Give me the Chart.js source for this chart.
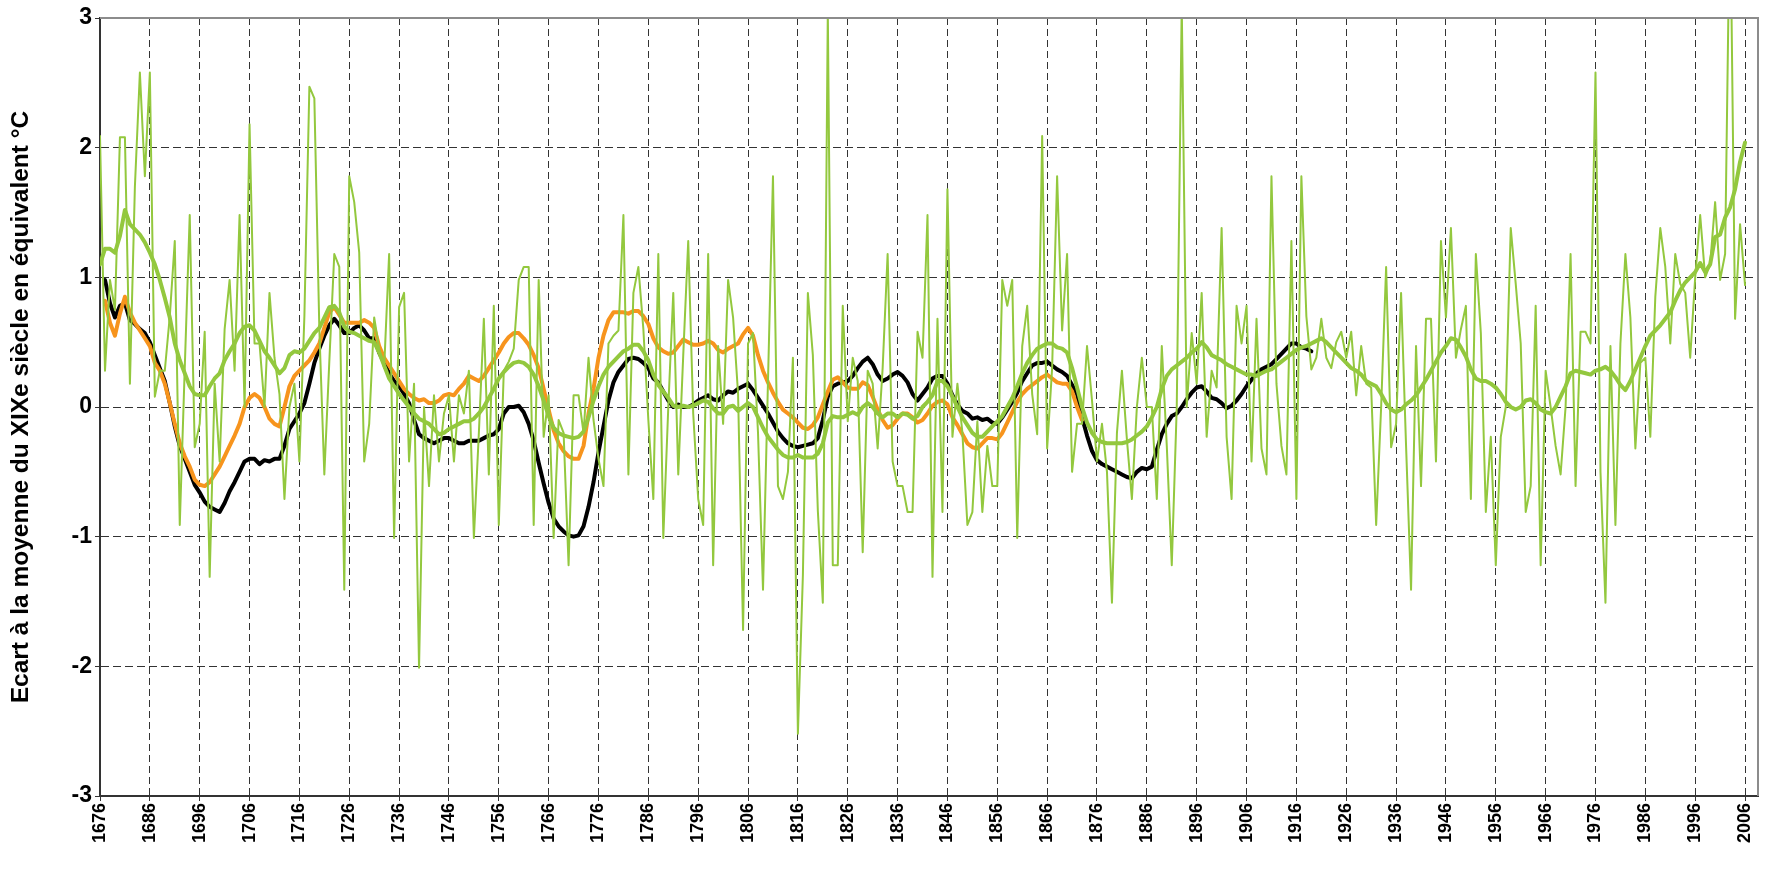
<!DOCTYPE html>
<html lang="fr">
<head>
<meta charset="utf-8">
<title>Ecart à la moyenne du XIXe siècle</title>
<script src="https://cdn.jsdelivr.net/npm/chart.js@4.4.1/dist/chart.umd.min.js"></script>
<style>
  html, body { margin: 0; padding: 0; background: #fff; }
  #chart { display: block; }
</style>
</head>
<body>
<canvas id="chart" width="1770" height="872"></canvas>
<script>
const X_TICKS = [1676, 1686, 1696, 1706, 1716, 1726, 1736, 1746, 1756, 1766, 1776, 1786,
  1796, 1806, 1816, 1826, 1836, 1846, 1856, 1866, 1876, 1886, 1896, 1906, 1916, 1926,
  1936, 1946, 1956, 1966, 1976, 1986, 1996, 2006];
const Y_MIN = -3;
const Y_MAX = 3;

// valeurs annuelles, 1676-2006
const ANNUAL_START = 1676;
const annual = [
  2.09, 0.28, 0.98, 0.75, 2.08, 2.08, 0.18, 1.7, 2.58, 1.78,
  2.58, 0.08, 0.28, 0.28, 0.7, 1.28, -0.91, 0.3, 1.48, -0.31,
  -0.13, 0.58, -1.31, 0.18, -0.42, 0.6, 0.98, 0.28, 1.48, 0.0,
  2.18, 0.49, 0.49, 0.0, 0.88, 0.38, 0.1, -0.71, 0.0, 0.18,
  -0.42, 0.7, 2.47, 2.38, 0.6, -0.52, 0.35, 1.18, 1.08, -1.41,
  1.78, 1.58, 1.19, -0.42, -0.13, 0.69, 0.45, 0.3, 1.18, -1.01,
  0.77, 0.88, -0.42, 0.18, -2.01, 0.0, -0.61, 0.09, -0.42, -0.05,
  0.09, -0.42, 0.09, -0.05, 0.28, -1.01, -0.2, 0.68, -0.52, 0.78,
  -0.91, 0.28, 0.35, 0.45, 0.98, 1.08, 1.08, -0.91, 0.98, -0.23,
  0.09, -1.01, -0.1, -0.2, -1.22, 0.09, 0.09, -0.2, 0.38, -0.1,
  -0.4, -0.61, 0.49, 0.55, 0.59, 1.48, -0.52, 0.88, 1.08, 0.6,
  -0.1, -0.71, 1.18, -1.01, 0.0, 0.88, -0.52, 0.4, 1.28, -0.05,
  -0.71, -0.91, 1.18, -1.22, 0.47, -0.13, 0.98, 0.69, 0.1, -1.72,
  0.49, 0.57, -0.2, -1.41, 0.2, 1.78, -0.61, -0.71, -0.5, 0.38,
  -2.52, -1.3, 0.88, 0.4, -0.8, -1.51, 3.05, -1.22, -1.22, 0.78,
  -0.11, 0.38, 0.2, -1.12, 0.28, 0.18, -0.32, 0.3, 1.18, -0.42,
  -0.61, -0.61, -0.81, -0.81, 0.58, 0.38, 1.48, -1.31, 0.68, -0.81,
  1.68, -0.23, 0.18, -0.2, -0.91, -0.81, -0.11, -0.81, -0.3, -0.61,
  -0.61, 0.98, 0.78, 0.98, -1.01, 0.47, 0.78, 0.1, -0.21, 2.09,
  -0.32, 0.3, 1.78, 0.59, 1.18, -0.5, -0.13, -0.13, 0.47, 0.05,
  -0.42, -0.13, -0.5, -1.51, -0.2, 0.28, -0.25, -0.71, 0.0, 0.38,
  0.0, 0.0, -0.71, 0.47, -0.3, -1.22, 0.0, 3.1, 0.0, 0.57,
  0.18, 0.88, -0.23, 0.28, 0.15, 1.38, -0.23, -0.71, 0.78, 0.49,
  0.78, -0.42, 0.68, -0.32, -0.52, 1.78, 0.18, -0.3, -0.52, 1.28,
  -0.71, 1.78, 0.7, 0.29, 0.38, 0.68, 0.38, 0.3, 0.5, 0.58,
  0.38, 0.58, 0.09, 0.47, 0.18, 0.15, -0.91, 0.0, 1.08, -0.31,
  -0.13, 0.88, -0.3, -1.41, 0.47, -0.61, 0.68, 0.68, -0.42, 1.28,
  0.69, 1.38, 0.38, 0.6, 0.78, -0.71, 1.18, 0.57, -0.81, -0.23,
  -1.22, -0.23, 0.0, 1.38, 0.95, 0.49, -0.81, -0.61, 0.78, -1.22,
  0.28, 0.0, -0.3, -0.52, 0.0, 1.18, -0.61, 0.58, 0.58, 0.49,
  2.58, -0.5, -1.51, 0.47, -0.91, 0.49, 1.18, 0.69, -0.32, 0.34,
  0.38, -0.23, 0.85, 1.38, 1.08, 0.49, 1.18, 0.95, 0.88, 0.38,
  1.0, 1.48, 1.0, 1.1, 1.58, 0.98, 1.18, 4.0, 0.68, 1.41,
  0.94,
];

// moyenne lissée (vert épais), 1676-2006
const SMOOTH_START = 1676;
const smoothed = [
  1.1, 1.22, 1.22, 1.19, 1.32, 1.52, 1.41, 1.37, 1.33, 1.27,
  1.19, 1.1, 0.98, 0.84, 0.69, 0.49, 0.36, 0.26, 0.16, 0.1,
  0.09, 0.09, 0.16, 0.22, 0.26, 0.36, 0.43, 0.49, 0.57, 0.62,
  0.63, 0.59, 0.51, 0.43, 0.38, 0.32, 0.26, 0.3, 0.4, 0.43,
  0.42, 0.45, 0.51, 0.57, 0.61, 0.69, 0.77, 0.78, 0.73, 0.62,
  0.58, 0.57, 0.55, 0.53, 0.51, 0.5, 0.42, 0.32, 0.22, 0.16,
  0.1, 0.05, 0.0, -0.05, -0.09, -0.11, -0.13, -0.17, -0.21, -0.2,
  -0.17, -0.15, -0.13, -0.11, -0.11, -0.09, -0.05, 0.0, 0.07, 0.14,
  0.22, 0.27, 0.31, 0.34, 0.35, 0.34, 0.31, 0.25, 0.16, 0.05,
  -0.07, -0.16, -0.2, -0.22, -0.23, -0.24, -0.23, -0.19, -0.08, 0.05,
  0.16, 0.25, 0.31, 0.35, 0.39, 0.43, 0.45, 0.48, 0.48, 0.43,
  0.36, 0.25, 0.17, 0.12, 0.07, 0.01, 0.0, 0.01, 0.0, 0.01,
  0.03, 0.05, 0.04, -0.01, -0.05, -0.05, 0.0, 0.01, -0.03, 0.0,
  0.03, 0.0, -0.08, -0.16, -0.23, -0.28, -0.33, -0.37, -0.39, -0.39,
  -0.37, -0.39, -0.39, -0.39, -0.36, -0.28, -0.12, -0.07, -0.08, -0.08,
  -0.06, -0.04, -0.06, 0.0, 0.03, 0.0, -0.05, -0.08, -0.05, -0.05,
  -0.08, -0.05, -0.06, -0.09, -0.07, 0.0, 0.04, 0.09, 0.2, 0.2,
  0.16, 0.08, 0.0, -0.08, -0.14, -0.2, -0.23, -0.23, -0.19, -0.15,
  -0.11, -0.07, 0.0, 0.07, 0.16, 0.26, 0.34, 0.4, 0.45, 0.47,
  0.49, 0.49, 0.46, 0.45, 0.42, 0.3, 0.15, 0.0, -0.12, -0.2,
  -0.25, -0.27, -0.28, -0.28, -0.28, -0.28, -0.27, -0.25, -0.22, -0.19,
  -0.15, -0.08, 0.0, 0.14, 0.24, 0.29, 0.32, 0.35, 0.38, 0.42,
  0.45, 0.5, 0.46, 0.4, 0.38, 0.36, 0.33, 0.31, 0.29, 0.27,
  0.25, 0.25, 0.24, 0.26, 0.28, 0.29, 0.32, 0.35, 0.38, 0.41,
  0.44, 0.46, 0.47, 0.49, 0.51, 0.53, 0.5, 0.46, 0.42, 0.38,
  0.34, 0.3, 0.28, 0.25, 0.2, 0.18, 0.16, 0.1, 0.03, -0.02,
  -0.04, -0.02, 0.02, 0.05, 0.09, 0.15, 0.21, 0.28, 0.35, 0.42,
  0.47, 0.53, 0.52, 0.46, 0.39, 0.29, 0.22, 0.2, 0.2, 0.18,
  0.15, 0.1, 0.04, 0.0, -0.02, 0.0, 0.05, 0.06, 0.03, -0.02,
  -0.04, -0.05, 0.0, 0.08, 0.16, 0.26, 0.28, 0.27, 0.26, 0.25,
  0.28, 0.29, 0.31, 0.28, 0.23, 0.17, 0.13, 0.2, 0.29, 0.38,
  0.47, 0.55, 0.59, 0.63, 0.68, 0.73, 0.82, 0.9, 0.96, 1.0,
  1.04, 1.11, 1.04, 1.1, 1.31, 1.33, 1.46, 1.54, 1.68, 1.89,
  2.04,
];

// courbe noire, 1677-1919
const BLACK_START = 1677;
const blackCurve = [
  0.98, 0.8, 0.69, 0.78, 0.8, 0.67, 0.64, 0.6, 0.57,
  0.5, 0.4, 0.3, 0.2, 0.03, -0.15, -0.3, -0.4, -0.5, -0.6,
  -0.66, -0.73, -0.77, -0.79, -0.81, -0.74, -0.65, -0.58, -0.5, -0.42,
  -0.4, -0.4, -0.44, -0.41, -0.42, -0.4, -0.4, -0.3, -0.17, -0.11,
  -0.05, 0.03, 0.18, 0.34, 0.45, 0.55, 0.63, 0.68, 0.63, 0.57,
  0.57, 0.61, 0.63, 0.59, 0.53, 0.53, 0.42, 0.34, 0.26, 0.2,
  0.16, 0.1, 0.03, -0.1, -0.21, -0.24, -0.26, -0.28, -0.26, -0.24,
  -0.24, -0.26, -0.28, -0.28, -0.26, -0.26, -0.26, -0.24, -0.22, -0.21,
  -0.17, -0.05, 0.0, 0.0, 0.01, -0.04, -0.13, -0.26, -0.43, -0.59,
  -0.74, -0.86, -0.92, -0.96, -0.99, -1.0, -0.99, -0.92, -0.77, -0.58,
  -0.35, -0.15, 0.05, 0.19, 0.27, 0.32, 0.37, 0.38, 0.37, 0.34,
  0.3, 0.22, 0.19, 0.12, 0.05, 0.0, 0.02, 0.0, 0.0, 0.02,
  0.05, 0.07, 0.09, 0.06, 0.05, 0.09, 0.12, 0.11, 0.14, 0.16,
  0.18, 0.13, 0.07, 0.01, -0.05, -0.12, -0.19, -0.24, -0.28, -0.3,
  -0.31, -0.3, -0.29, -0.28, -0.24, -0.1, 0.08, 0.16, 0.18, 0.19,
  0.2, 0.24, 0.3, 0.35, 0.38, 0.33, 0.25, 0.2, 0.22, 0.25,
  0.27, 0.24, 0.19, 0.1, 0.05, 0.1, 0.15, 0.22, 0.24, 0.24,
  0.18, 0.09, 0.02, -0.03, -0.05, -0.09, -0.08, -0.1, -0.09, -0.12,
  -0.13, -0.08, -0.02, 0.04, 0.11, 0.2, 0.26, 0.32, 0.34, 0.34,
  0.35, 0.32, 0.29, 0.27, 0.24, 0.17, 0.1, -0.08, -0.22, -0.34,
  -0.41, -0.44, -0.46, -0.48, -0.5, -0.52, -0.54, -0.55, -0.5, -0.47,
  -0.48, -0.46, -0.33, -0.21, -0.13, -0.07, -0.05, 0.0, 0.06, 0.11,
  0.15, 0.16, 0.12, 0.07, 0.06, 0.03, -0.01, 0.01, 0.05, 0.1,
  0.16, 0.21, 0.26, 0.29, 0.31, 0.33, 0.37, 0.41, 0.45, 0.49,
  0.49, 0.46, 0.45, 0.43,
];

// courbe orange, 1677-1873
const ORANGE_START = 1677;
const orangeCurve = [
  0.82, 0.65, 0.55, 0.72, 0.85, 0.73, 0.65, 0.59, 0.53,
  0.47, 0.34, 0.28, 0.18, 0.03, -0.13, -0.28, -0.38, -0.46, -0.56,
  -0.6, -0.61, -0.58, -0.52, -0.46, -0.38, -0.3, -0.22, -0.13, 0.0,
  0.07, 0.1, 0.07, 0.0, -0.09, -0.13, -0.15, 0.0, 0.16, 0.24,
  0.28, 0.32, 0.36, 0.42, 0.49, 0.61, 0.73, 0.77, 0.71, 0.65,
  0.65, 0.65, 0.65, 0.67, 0.65, 0.61, 0.47, 0.38, 0.32, 0.26,
  0.2, 0.14, 0.1, 0.07, 0.05, 0.06, 0.03, 0.03, 0.05, 0.09,
  0.1, 0.09, 0.14, 0.18, 0.24, 0.22, 0.2, 0.24, 0.3, 0.36,
  0.42, 0.49, 0.54, 0.57, 0.57, 0.53, 0.48, 0.4, 0.3, 0.14,
  -0.02, -0.18, -0.28, -0.34, -0.38, -0.4, -0.4, -0.3, -0.05, 0.14,
  0.38, 0.55, 0.67, 0.73, 0.73, 0.73, 0.72, 0.74, 0.74, 0.7,
  0.64, 0.53, 0.46, 0.43, 0.41, 0.42, 0.47, 0.52, 0.5, 0.48,
  0.48, 0.49, 0.51, 0.49, 0.44, 0.42, 0.45, 0.47, 0.49, 0.56,
  0.61, 0.55, 0.4, 0.28, 0.19, 0.11, 0.04, -0.02, -0.05, -0.08,
  -0.12, -0.16, -0.17, -0.14, -0.08, 0.02, 0.12, 0.21, 0.23, 0.19,
  0.15, 0.14, 0.14, 0.19, 0.17, 0.08, -0.02, -0.1, -0.16, -0.14,
  -0.09, -0.05, -0.05, -0.08, -0.12, -0.1, -0.05, 0.01, 0.04, 0.05,
  0.02, -0.08, -0.14, -0.21, -0.28, -0.31, -0.32, -0.28, -0.24, -0.24,
  -0.25, -0.2, -0.12, -0.04, 0.04, 0.1, 0.14, 0.17, 0.2, 0.23,
  0.25, 0.22, 0.19, 0.18, 0.18, 0.12, 0.0, -0.1,
];

const FONT = "'Liberation Sans', Arial, sans-serif";
const GREEN = '#93c83e';

function toPoints(values, start) {
  return values.map((y, i) => ({ x: start + i, y }));
}

function lineSet(data, color, width) {
  return {
    data,
    borderColor: color,
    borderWidth: width,
    pointRadius: 0,
    tension: 0,
    borderJoinStyle: 'round',
    borderCapStyle: 'round',
    clip: 0,
  };
}

// bord haut et droit du cadre
const frame = {
  id: 'frame',
  afterDatasetsDraw(chart) {
    const { ctx, chartArea: a } = chart;
    ctx.save();
    ctx.strokeStyle = '#8c8c8c';
    ctx.lineWidth = 2;
    ctx.beginPath();
    ctx.moveTo(a.left, a.top);
    ctx.lineTo(a.right, a.top);
    ctx.lineTo(a.right, a.bottom);
    ctx.stroke();
    ctx.restore();
  },
};

Chart.defaults.color = '#000';
Chart.defaults.font.family = FONT;

new Chart(document.getElementById('chart'), {
  type: 'line',
  data: {
    datasets: [
      lineSet(toPoints(smoothed, SMOOTH_START), GREEN, 4),
      lineSet(toPoints(annual, ANNUAL_START), GREEN, 2),
      lineSet(toPoints(orangeCurve, ORANGE_START), '#f7941d', 4),
      lineSet(toPoints(blackCurve, BLACK_START), '#000', 4),
    ],
  },
  options: {
    responsive: false,
    animation: false,
    events: [],
    layout: { padding: { top: 18, right: 12, left: 0, bottom: 0 } },
    plugins: { legend: { display: false }, tooltip: { enabled: false } },
    scales: {
      x: {
        type: 'linear',
        min: 1676,
        max: 2008.6,
        afterBuildTicks: (scale) => { scale.ticks = X_TICKS.map((value) => ({ value })); },
        afterFit: (scale) => { scale.height = 76; },
        ticks: {
          autoSkip: false,
          minRotation: 90,
          maxRotation: 90,
          padding: 2,
          font: { size: 18, weight: 'bold' },
          callback: (v) => String(v),
        },
        grid: {
          color: (c) => (c.tick && c.tick.value === 1676 ? 'rgba(0,0,0,0)' : '#333'),
          lineWidth: 1,
          tickLength: 5,
          tickColor: '#333',
        },
        border: { color: '#333', width: 2, dash: [7, 4] },
      },
      y: {
        min: Y_MIN,
        max: Y_MAX,
        afterFit: (scale) => { scale.width = 100; },
        ticks: {
          stepSize: 1,
          padding: 3,
          font: { size: 23, weight: 'bold' },
          callback: (v) => String(v),
        },
        grid: {
          color: (c) => (c.tick && (c.tick.value === Y_MAX || c.tick.value === Y_MIN) ? 'rgba(0,0,0,0)' : '#333'),
          lineWidth: 1,
          tickLength: 5,
          tickColor: '#333',
        },
        border: { color: '#333', width: 2, dash: [8, 4] },
        title: {
          display: true,
          text: 'Ecart à la moyenne du XIXe siècle en équivalent °C',
          font: { size: 24.5, weight: 'bold' },
          padding: { top: 7, bottom: 0 },
        },
      },
    },
  },
  plugins: [frame],
});
</script>
</body>
</html>
